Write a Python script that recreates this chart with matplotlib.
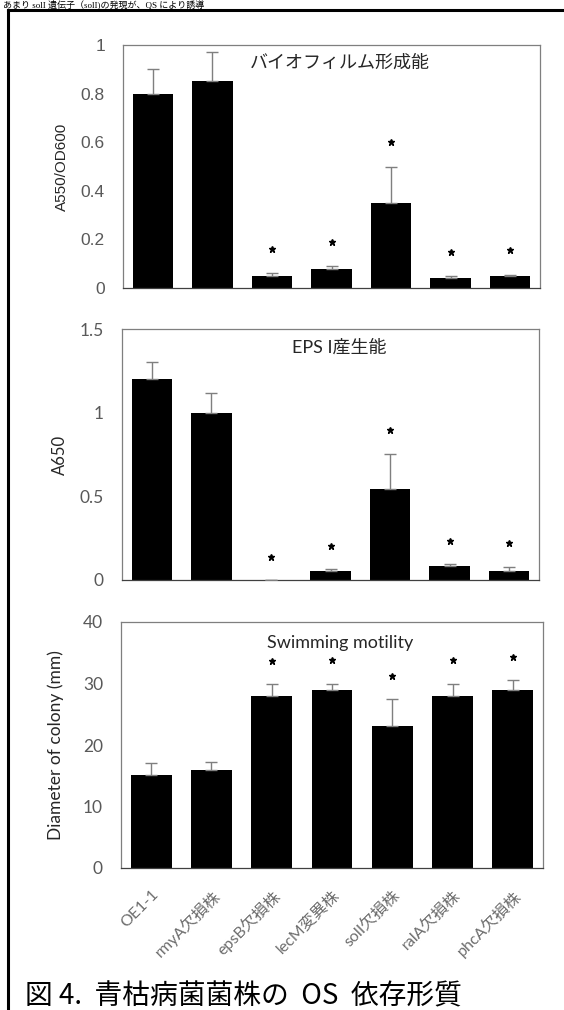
import numpy as np
import matplotlib.pyplot as plt
from matplotlib.lines import Line2D

plt.rcParams['font.family'] = ['Liberation Sans', 'Noto Sans CJK JP']

# 菌株
strains = ['OE1-1', 'rmyA欠損株', 'epsB欠損株', 'lecM変異株', 'solI欠損株', 'ralA欠損株', 'phcA欠損株']

# バイオフィルム形成能
biofilm = [0.80, 0.85, 0.05, 0.08, 0.35, 0.04, 0.05]
biofilm_err = [0.10, 0.12, 0.01, 0.01, 0.15, 0.01, 0.005]

# EPS I産生能
eps = [1.20, 1.00, 0.0, 0.055, 0.545, 0.085, 0.055]
eps_err = [0.10, 0.12, 0.0, 0.01, 0.21, 0.01, 0.025]

# Swimming motility
swim = [15.1, 16.0, 28.0, 29.0, 23.1, 28.0, 29.0]
swim_err = [2.0, 1.2, 1.9, 1.0, 4.4, 2.0, 1.5]

# 有意差あり (*)
signif = [False, False, True, True, True, True, True]

gray = '#595959'
W, H = 564, 1010
fig = plt.figure(figsize=(W / 100, H / 100), dpi=100)


def box(l, t, r, b):
    return [l / W, 1 - b / H, (r - l) / W, (b - t) / H]


def panel(rect, vals, errs, ymax, yticks, ylabel, title, title_y, gap, tickfont, labsize):
    ax = fig.add_axes(rect)
    x = np.arange(len(vals))
    ax.bar(x, vals, width=0.68, color='black', zorder=2)
    lo = np.zeros(len(errs))
    ax.errorbar(x, vals, yerr=[lo, errs], fmt='none', ecolor='#7f7f7f',
                elinewidth=1, capsize=4.5, capthick=1, zorder=3)
    for i, s in enumerate(signif):
        if s:
            ax.plot(x[i], vals[i] + errs[i] + gap, marker='*', color='black',
                    markersize=5, zorder=4)
    ax.set_xlim(-0.5, len(vals) - 0.5)
    ax.set_ylim(0, ymax)
    ax.set_yticks(yticks)
    ax.set_yticklabels([('%g' % v) for v in yticks], fontsize=12.5, color=gray,
                       family=tickfont)
    ax.tick_params(axis='y', length=0, pad=13)
    ax.set_xticks([])
    for sp in ax.spines.values():
        sp.set_color('#7f7f7f')
        sp.set_linewidth(0.9)
    ax.spines['bottom'].set_color('#404040')
    ax.set_ylabel(ylabel, fontsize=labsize, color='#262626', family=tickfont)
    ax.text(0.52, title_y, title, transform=ax.transAxes, ha='center', va='center',
            fontsize=13, color='#262626', family=tickfont + ['Noto Sans CJK JP'])
    return ax


ax1 = panel(box(123, 45, 540, 288), biofilm, biofilm_err, 1.0,
            [0, 0.2, 0.4, 0.6, 0.8, 1.0], 'A550/OD600', 'バイオフィルム形成能', 0.925, 0.10,
            ['Liberation Sans'], 11)
ax1.yaxis.set_label_coords(-0.13, 0.5)

ax2 = panel(box(122, 329, 539, 580), eps, eps_err, 1.5,
            [0, 0.5, 1.0, 1.5], 'A650', 'EPS I産生能', 0.925, 0.14,
            ['Lato'], 12)
ax2.yaxis.set_label_coords(-0.13, 0.5)

ax3 = panel(box(121, 622, 543, 868), swim, swim_err, 40,
            [0, 10, 20, 30, 40], 'Diameter of colony (mm)', 'Swimming motility', 0.915, 3.8,
            ['Lato'], 12.5)
ax3.yaxis.set_label_coords(-0.135, 0.5)
ax3.set_xticks(np.arange(len(strains)))
ax3.set_xticklabels(strains, rotation=45, ha='right', rotation_mode='anchor',
                    fontsize=11.5, color='#6d6d6d', family=['Lato', 'Noto Sans CJK JP'])
ax3.tick_params(axis='x', length=0, pad=14)

# 外枠
fig.add_artist(Line2D([8 / W, 8 / W], [0, 1 - 10 / H], color='black', lw=2.2))
fig.add_artist(Line2D([8 / W, 1.0], [1 - 10 / H, 1 - 10 / H], color='black', lw=2.2))

# 上の本文
fig.text(0.005, 1 - 7.5 / H, 'あまり solI 遺伝子（solI)の発現が、QS により誘導',
         fontsize=6.5, va='baseline', ha='left', family=['Liberation Serif', 'Noto Sans CJK JP'])

# キャプション
fig.text(25 / W, 1 - 996 / H, '図 4.  青枯病菌菌株の  OS  依存形質', fontsize=20,
         va='center', ha='left', family=['Noto Sans CJK JP'])

fig.savefig('out.png', dpi=100)
